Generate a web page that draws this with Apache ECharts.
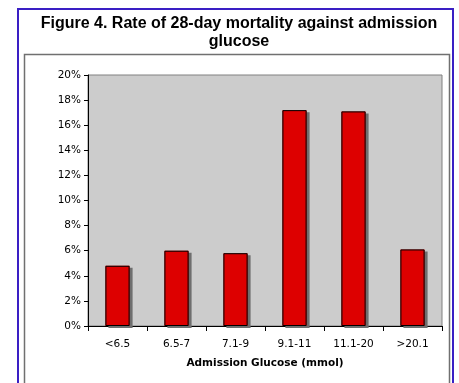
<!DOCTYPE html>
<html>
<head>
<meta charset="utf-8">
<script src="https://cdn.jsdelivr.net/npm/echarts@6/dist/echarts.min.js"></script>
<style>
  html, body { margin: 0; padding: 0; background: #ffffff; }
  #chart { width: 459px; height: 383px; }
</style>
</head>
<body>
<div id="chart"></div>
<script>
// Admission glucose bands (mmol) and 28-day mortality rate (%)
const categories = ['<6.5', '6.5-7', '7.1-9', '9.1-11', '11.1-20', '>20.1'];
const mortalityRate = [4.8, 6.0, 5.8, 17.2, 17.1, 6.1];
const yTicks = { min: 0, max: 20, interval: 2 };

const labelFont = 'DejaVu Sans, Verdana, sans-serif';

const chart = echarts.init(document.getElementById('chart'));
chart.setOption({
  animation: false,
  backgroundColor: '#ffffff',
  title: {
    text: 'Figure 4. Rate of 28-day mortality against admission\nglucose',
    left: 239,
    top: 15,
    padding: 0,
    textAlign: 'center',
    textStyle: {
      fontFamily: 'Liberation Sans, Arial, sans-serif',
      fontWeight: 'bold',
      fontSize: 16,
      lineHeight: 18,
      color: '#000000'
    }
  },
  graphic: [
    {
      type: 'rect', z: -10,
      shape: { x: 18, y: 9, width: 435, height: 384 },
      style: { fill: 'none', stroke: '#3a1fc4', lineWidth: 2 }
    },
    {
      type: 'rect', z: -10,
      shape: { x: 24.5, y: 54.5, width: 425, height: 340 },
      style: { fill: 'none', stroke: '#707070', lineWidth: 1.5 }
    }
  ],
  grid: {
    left: 88, right: 17, top: 75, bottom: 57,
    show: true,
    backgroundColor: '#cccccc',
    borderColor: '#808080',
    borderWidth: 1
  },
  xAxis: {
    type: 'category',
    data: categories,
    name: 'Admission Glucose (mmol)',
    nameLocation: 'middle',
    nameGap: 32,
    nameTextStyle: {
      fontFamily: labelFont,
      fontWeight: 'bold',
      fontSize: 10.5,
      color: '#000000'
    },
    axisLine: { lineStyle: { color: '#000000', width: 1 } },
    axisTick: { show: true, length: 5, alignWithLabel: false, lineStyle: { color: '#000000' } },
    axisLabel: {
      margin: 13,
      fontFamily: labelFont,
      fontSize: 10.5,
      color: '#000000'
    },
    splitLine: { show: false }
  },
  yAxis: {
    type: 'value',
    min: yTicks.min,
    max: yTicks.max,
    interval: yTicks.interval,
    axisLine: { show: true, lineStyle: { color: '#000000', width: 1 } },
    axisTick: { show: true, length: 4, lineStyle: { color: '#000000' } },
    axisLabel: {
      margin: 7,
      formatter: '{value}%',
      fontFamily: labelFont,
      fontSize: 10.5,
      color: '#000000'
    },
    splitLine: { show: false }
  },
  series: [
    {
      // filled bars with a hard drop shadow
      type: 'bar',
      data: mortalityRate,
      barWidth: '41%',
      itemStyle: {
        color: '#dd0000',
        borderWidth: 0,
        shadowColor: '#6e6e6e',
        shadowBlur: 0,
        shadowOffsetX: 3,
        shadowOffsetY: 2
      }
    },
    {
      // black outlines drawn over the same bars
      type: 'bar',
      data: mortalityRate,
      barWidth: '41%',
      barGap: '-100%',
      silent: true,
      itemStyle: {
        color: 'rgba(0,0,0,0)',
        borderColor: '#000000',
        borderWidth: 1
      }
    }
  ]
});
</script>
</body>
</html>
